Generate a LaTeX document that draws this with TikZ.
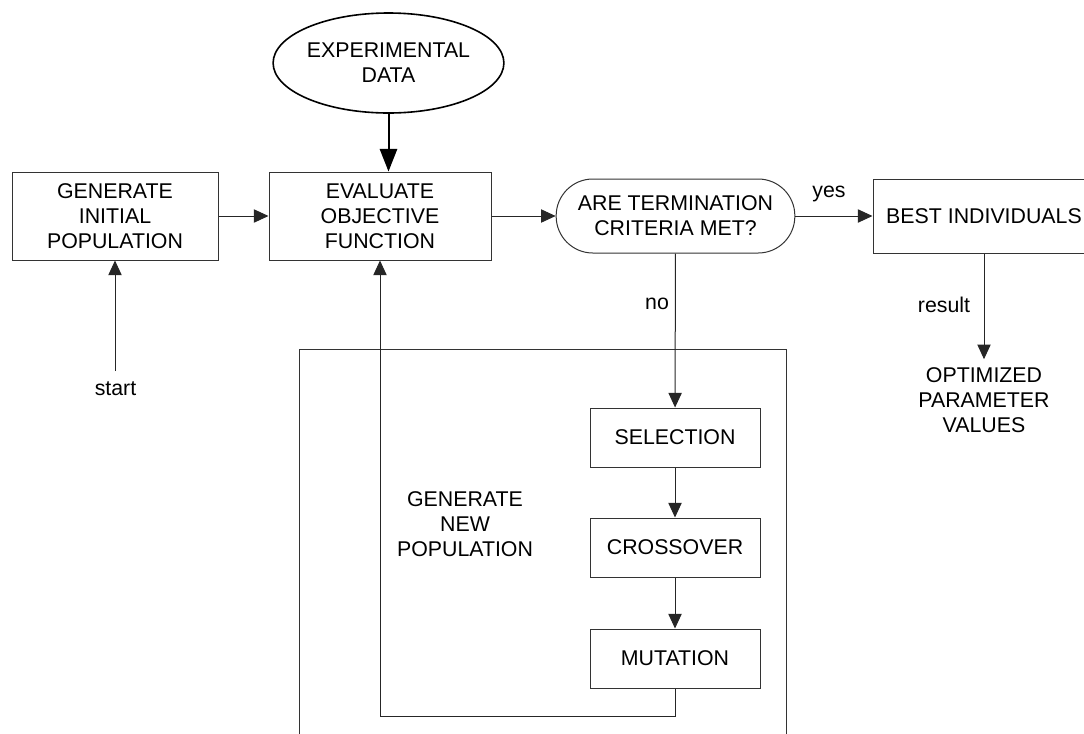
\documentclass[tikz,border=0pt]{standalone}
\usepackage{fontspec}
\setmainfont{Liberation Sans}
\usetikzlibrary{shapes.geometric,arrows.meta}

\begin{document}
\begin{tikzpicture}[x=0.75pt,y=-0.75pt,font=\fontsize{16}{18.75}\selectfont,
  block/.style={rectangle,draw=black!80,line width=0.75pt,align=center,inner sep=2pt},
  arr/.style={-{Triangle[length=11pt,width=10pt]},draw=black!85,line width=0.75pt},
  bigarr/.style={-{Triangle[length=17pt,width=13pt]},line width=1.5pt},
  lbl/.style={align=center,inner sep=0pt}]
\useasboundingbox (0,0) rectangle (1084,733);
%Node Coordinates
\node at (388.5,63) [ellipse,draw=black,line width=1.2pt,minimum width=143pt,minimum height=75pt,inner sep=0pt,align=center] (Data) {EXPERIMENTAL\\DATA};
\node at (115,216) [block,minimum width=154.5pt,minimum height=66pt] (Initial) {GENERATE\\INITIAL\\POPULATION};
\node at (380,216) [block,minimum width=166.5pt,minimum height=66pt] (Evaluate) {EVALUATE\\OBJECTIVE\\FUNCTION};
\node at (675.5,216) [block,rounded corners=27.5pt,minimum width=179pt,minimum height=55.5pt] (Criteria) {ARE TERMINATION\\CRITERIA MET?};
\node at (984,216) [block,minimum width=166.5pt,minimum height=55.5pt] (Best) {BEST INDIVIDUALS};
\node at (675,437.5) [block,minimum width=127.5pt,minimum height=44.25pt] (Selection) {SELECTION};
\node at (675,547.5) [block,minimum width=127.5pt,minimum height=44.25pt] (Crossover) {CROSSOVER};
\node at (675,658.5) [block,minimum width=127.5pt,minimum height=44.25pt] (Mutation) {MUTATION};
\node at (984,400) [lbl,inner sep=6pt] (Result) {OPTIMIZED\\PARAMETER\\VALUES};
\coordinate (Start) at (115,371);
\coordinate (Loop) at (380,716);
%Group
\draw [draw=black!80,line width=0.75pt] (299,349) rectangle (786,760);
\node at (465,524) [lbl] (NewPop) {GENERATE\\NEW\\POPULATION};
%Node Labels
\node at (115.5,389) [lbl] (StartLabel) {start};
\node at (829,194) [lbl] (YesLabel) {yes};
\node at (657,304) [lbl] (NoLabel) {no};
\node at (944,305) [lbl] (ResultLabel) {result};
%connections
\draw [arr] (Start) -- (Initial);
\draw [arr] (Initial) -- (Evaluate);
\draw [bigarr] (Data.south) -- (Data.south |- Evaluate.north);
\draw [arr] (Evaluate) -- (Criteria);
\draw [arr] (Criteria) -- (Best);
\draw [arr] (Criteria) -- (Selection);
\draw [arr] (Selection) -- (Crossover);
\draw [arr] (Crossover) -- (Mutation);
\draw [arr] (Mutation.south) |- (Loop) -- (Evaluate.south);
\draw [arr] (Best) -- (Result);

\end{tikzpicture}
\end{document}
